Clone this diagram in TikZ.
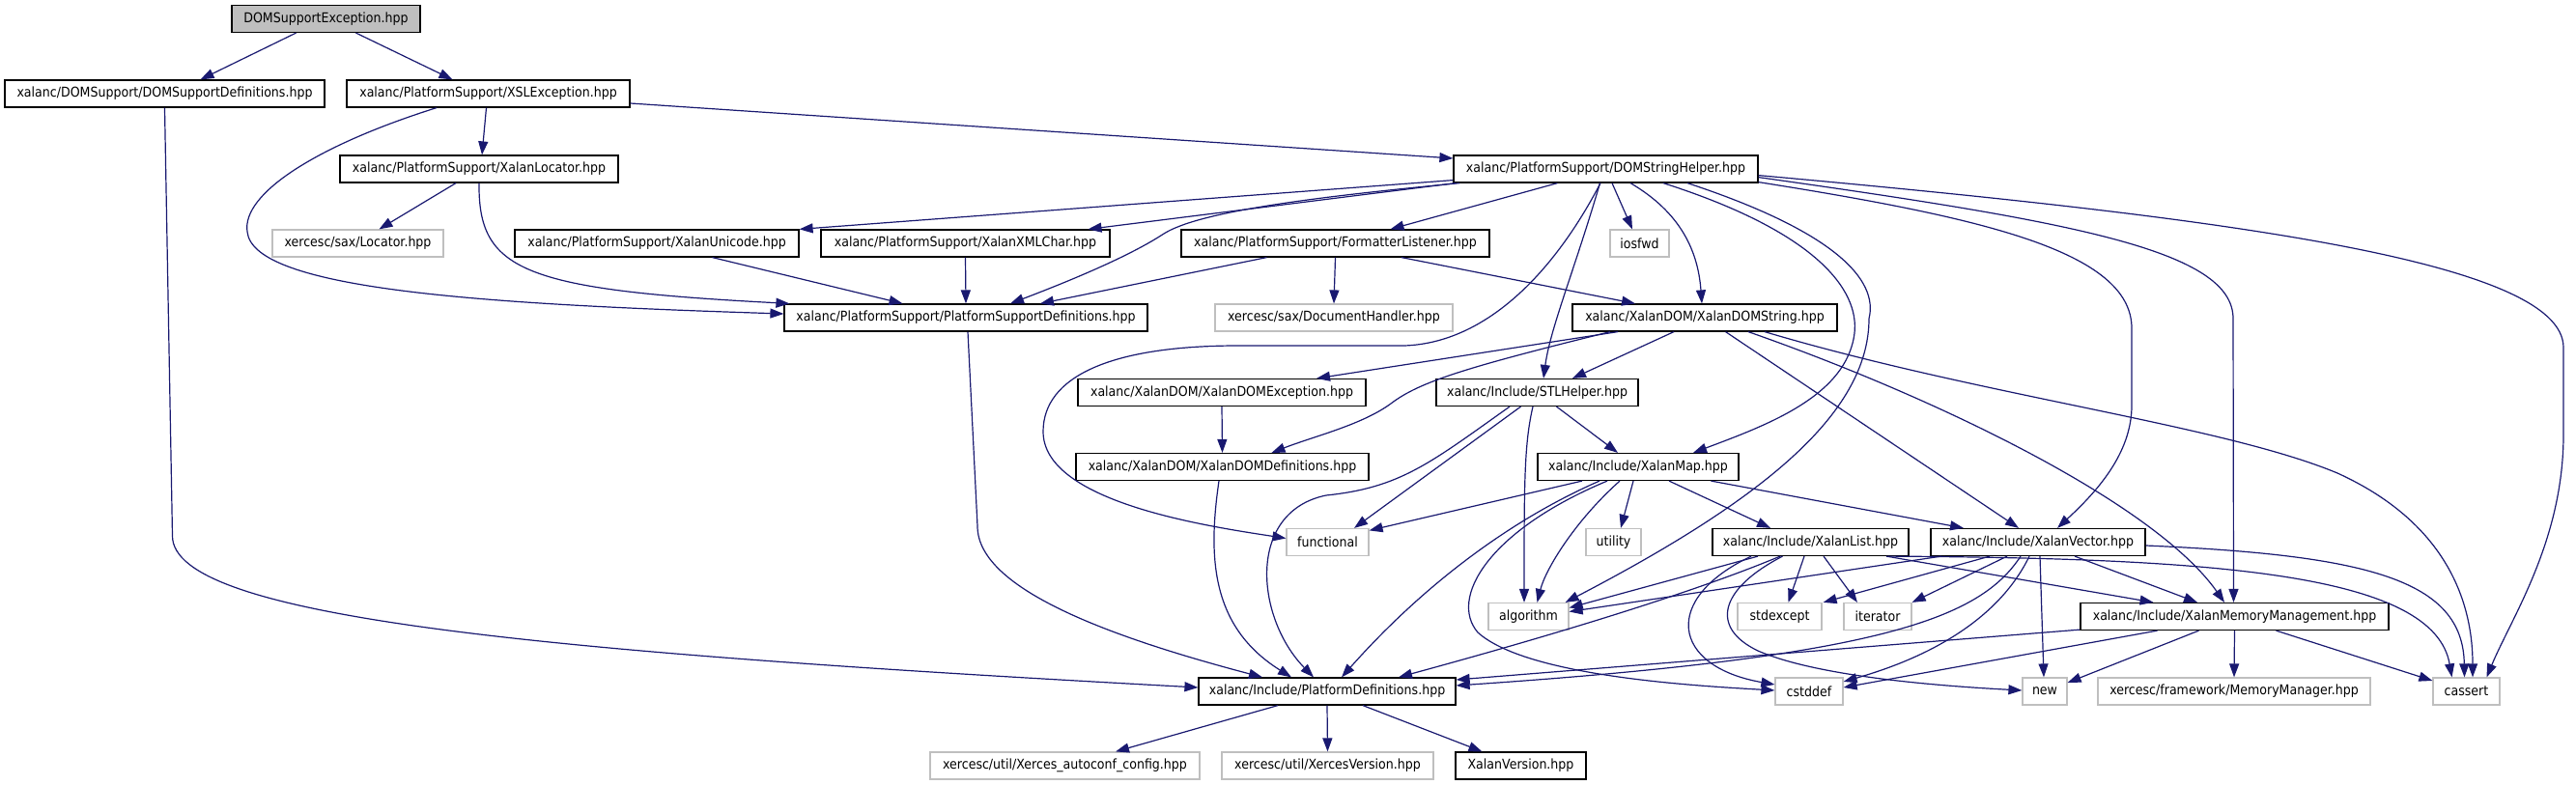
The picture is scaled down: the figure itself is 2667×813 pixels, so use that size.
\documentclass[tikz,border=0pt]{standalone}
\usepackage{fontspec}
\usepackage{graphicx}
\setmainfont{DejaVu Sans}
\usetikzlibrary{arrows.meta}
\definecolor{edgec}{HTML}{191970}
\definecolor{sysc}{HTML}{BFBFBF}
\newcommand{\nt}[1]{\scalebox{0.9}[1]{#1}}
\tikzset{
  box/.style={draw=black, fill=white, line width=1.2pt, inner sep=0pt, minimum height=28pt,
    font=\fontsize{14}{16}\selectfont},
  sys/.style={box, draw=sysc},
  e/.style={draw=edgec, line width=1.2pt, -{Triangle[length=14pt,width=10pt]}}
}
\begin{document}
\begin{tikzpicture}[x=1pt,y=-1pt]
\useasboundingbox (0,0) rectangle (2667,813);
% nodes
\node[box, fill=sysc, minimum width=195pt] (top) at (337.5,19.5) {\nt{DOMSupportException.hpp}};
\node[box, minimum width=331pt] (dsd) at (170.5,97) {\nt{xalanc/DOMSupport/DOMSupportDefinitions.hpp}};
\node[box, minimum width=293pt] (xsl) at (505.5,97) {\nt{xalanc/PlatformSupport/XSLException.hpp}};
\node[box, minimum width=288pt] (loc) at (496,175) {\nt{xalanc/PlatformSupport/XalanLocator.hpp}};
\node[box, minimum width=315pt] (dsh) at (1662.5,175) {\nt{xalanc/PlatformSupport/DOMStringHelper.hpp}};
\node[sys, minimum width=177pt] (saxloc) at (370.5,252) {\nt{xercesc/sax/Locator.hpp}};
\node[box, minimum width=294pt] (uni) at (680,252) {\nt{xalanc/PlatformSupport/XalanUnicode.hpp}};
\node[box, minimum width=299pt] (xmlchar) at (999.5,252) {\nt{xalanc/PlatformSupport/XalanXMLChar.hpp}};
\node[box, minimum width=319pt] (fmt) at (1382.5,252) {\nt{xalanc/PlatformSupport/FormatterListener.hpp}};
\node[sys, minimum width=61pt] (iosfwd) at (1697.5,252) {\nt{iosfwd}};
\node[box, minimum width=376pt] (psd) at (1000,329) {\nt{xalanc/PlatformSupport/PlatformSupportDefinitions.hpp}};
\node[sys, minimum width=246pt] (doch) at (1381,329) {\nt{xercesc/sax/DocumentHandler.hpp}};
\node[box, minimum width=274pt] (xds) at (1765,329) {\nt{xalanc/XalanDOM/XalanDOMString.hpp}};
\node[box, minimum width=298pt] (xde) at (1265,406.5) {\nt{xalanc/XalanDOM/XalanDOMException.hpp}};
\node[box, minimum width=209pt] (stl) at (1591.5,406.5) {\nt{xalanc/Include/STLHelper.hpp}};
\node[box, minimum width=303pt] (xdd) at (1265.5,483.5) {\nt{xalanc/XalanDOM/XalanDOMDefinitions.hpp}};
\node[box, minimum width=208pt] (map) at (1696,483.5) {\nt{xalanc/Include/XalanMap.hpp}};
\node[sys, minimum width=85pt] (func) at (1374.5,561.5) {\nt{functional}};
\node[sys, minimum width=57pt] (util) at (1670.5,561.5) {\nt{utility}};
\node[box, minimum width=203pt] (list) at (1874.5,561.5) {\nt{xalanc/Include/XalanList.hpp}};
\node[box, minimum width=222pt] (vec) at (2110,561.5) {\nt{xalanc/Include/XalanVector.hpp}};
\node[sys, minimum width=83pt] (alg) at (1582.5,638.5) {\nt{algorithm}};
\node[sys, minimum width=87pt] (stdex) at (1842.5,638.5) {\nt{stdexcept}};
\node[sys, minimum width=70pt] (iter) at (1944,638.5) {\nt{iterator}};
\node[box, minimum width=319pt] (mm) at (2313.5,638.5) {\nt{xalanc/Include/XalanMemoryManagement.hpp}};
\node[box, minimum width=266pt] (pd) at (1374,716) {\nt{xalanc/Include/PlatformDefinitions.hpp}};
\node[sys, minimum width=70pt] (cstddef) at (1873,716) {\nt{cstddef}};
\node[sys, minimum width=46pt] (new) at (2117,716) {\nt{new}};
\node[sys, minimum width=282pt] (memmgr) at (2313,716) {\nt{xercesc/framework/MemoryManager.hpp}};
\node[sys, minimum width=69pt] (cassert) at (2553.5,716) {\nt{cassert}};
\node[sys, minimum width=279pt] (xac) at (1102.5,793) {\nt{xercesc/util/Xerces\_autoconf\_config.hpp}};
\node[sys, minimum width=219pt] (xv) at (1374.5,793) {\nt{xercesc/util/XercesVersion.hpp}};
\node[box, minimum width=135pt] (xalv) at (1574.5,793) {\nt{XalanVersion.hpp}};
% edges
\draw[e] ([xshift=-31pt]top.south) -- ([xshift=37pt]dsd.north);
\draw[e] ([xshift=31pt]top.south) -- ([xshift=-37pt]xsl.north);
\draw[e] (dsd.south) -- (178.5,555) .. controls (178.5,640) and (560,675) .. ([yshift=4pt]pd.west);
\draw[e] ([xshift=-2pt]xsl.south) -- ([xshift=3pt]loc.north);
\draw[e] ([xshift=-53.5pt]xsl.south) .. controls (330,150) and (250,200) .. (256,240) .. controls (262,300) and (500,315) .. ([yshift=4pt]psd.west);
\draw[e] ([yshift=-10pt]xsl.east) -- ([yshift=11pt]dsh.west);
\draw[e] ([xshift=-24pt]loc.south) -- ([xshift=22pt]saxloc.north);
\draw[e] (loc.south) .. controls (495,280) and (540,300) .. ([xshift=6pt]psd.north west);
\draw[e] ([yshift=3pt]dsh.south west) -- (uni.north east);
\draw[e] ([xshift=3pt]dsh.south west) -- ([xshift=127pt]xmlchar.north);
\draw[e] ([xshift=7pt]dsh.south west) .. controls (1350,205) and (1240,220) .. (1205,242) .. controls (1170,265) and (1110,290) .. ([xshift=46pt]psd.north);
\draw[e] ([xshift=-50pt]dsh.south) -- ([xshift=57pt]fmt.north);
\draw[e] ([xshift=6.5pt]dsh.south) -- ([xshift=-7.5pt]iosfwd.north);
\draw[e] ([xshift=25.5pt]dsh.south) .. controls (1740,220) and (1758,260) .. ([xshift=-3pt]xds.north);
\draw[e] ([xshift=-5.5pt]dsh.south) .. controls (1610,280) and (1540,355) .. (1454,358) -- (1282,358) .. controls (1150,358) and (1080,390) .. (1080,447) .. controls (1080,520) and (1250,545) .. ([yshift=4pt]func.west);
\draw[e] ([xshift=-6pt]dsh.south) .. controls (1630,280) and (1605,340) .. ([xshift=6.5pt]stl.north);
\draw[e] ([xshift=59.5pt]dsh.south) .. controls (1880,240) and (1925,300) .. (1920,345) .. controls (1912,410) and (1830,440) .. ([xshift=57pt]map.north);
\draw[e] ([xshift=84.5pt]dsh.south) .. controls (1900,240) and (1945,290) .. (1935,330) .. controls (1935,430) and (1820,520) .. ([xshift=-4pt]alg.north east);
\draw[e] ([yshift=1pt]dsh.south east) .. controls (2050,225) and (2207,260) .. (2207,340) -- (2207,420) .. controls (2207,470) and (2170,510) .. ([xshift=20pt]vec.north);
\draw[e] ([yshift=6pt]dsh.south east) .. controls (2150,230) and (2312,260) .. (2312,330) -- ([xshift=-1pt]mm.north);
\draw[e] ([yshift=8pt]dsh.south east) .. controls (2300,225) and (2654,270) .. (2654,360) -- (2654,450) .. controls (2654,560) and (2600,640) .. ([xshift=21pt]cassert.north);
\draw[e] ([xshift=57.5pt]uni.south) -- ([xshift=-65.5pt]psd.north);
\draw[e] (xmlchar.south) -- (psd.north);
\draw[e] ([xshift=-71pt]fmt.south) -- ([xshift=77pt]psd.north);
\draw[e] (fmt.south) -- (doch.north);
\draw[e] ([xshift=68.5pt]fmt.south) -- ([xshift=-72pt]xds.north);
\draw[e] ([xshift=2pt]psd.south) -- (1012,545) .. controls (1012,610) and (1150,660) .. ([xshift=-67pt]pd.north);
\draw[e] ([xshift=-90pt]xds.south) -- ([xshift=98pt]xde.north);
\draw[e] ([xshift=-98pt]xds.south) .. controls (1520,380) and (1470,395) .. (1440,418) .. controls (1410,440) and (1360,452) .. ([xshift=51pt]xdd.north);
\draw[e] ([xshift=-32pt]xds.south) -- ([xshift=36.5pt]stl.north);
\draw[e] ([xshift=21.5pt]xds.south) -- ([xshift=-20pt]vec.north);
\draw[e] ([xshift=45pt]xds.south) .. controls (2000,410) and (2230,520) .. ([xshift=-10.5pt]mm.north);
\draw[e] ([xshift=62pt]xds.south) .. controls (2050,410) and (2300,440) .. (2420,490) .. controls (2530,540) and (2560,620) .. ([xshift=6.5pt]cassert.north);
\draw[e] (xde.south) -- (xdd.north);
\draw[e] ([xshift=-17pt]stl.south) -- ([xshift=27.5pt]func.north);
\draw[e] ([xshift=-28.5pt]stl.south) .. controls (1480,480) and (1450,505) .. (1373,513) .. controls (1290,530) and (1300,640) .. ([xshift=-14pt]pd.north);
\draw[e] ([xshift=-4.5pt]stl.south) .. controls (1578,460) and (1578,500) .. ([xshift=-4.5pt]alg.north);
\draw[e] ([xshift=20pt]stl.south) -- ([xshift=-21pt]map.north);
\draw[e] ([xshift=-3.5pt]xdd.south) .. controls (1250,580) and (1255,650) .. ([xshift=-37pt]pd.north);
\draw[e] ([xshift=-58pt]map.south) -- ([yshift=-2.5pt]func.north east);
\draw[e] ([xshift=-40pt]map.south) .. controls (1560,540) and (1470,610) .. ([xshift=15pt]pd.north);
\draw[e] ([xshift=-19pt]map.south) .. controls (1630,540) and (1600,590) .. ([xshift=9pt]alg.north);
\draw[e] ([xshift=-5pt]map.south) -- ([xshift=7.5pt]util.north);
\draw[e] ([xshift=32pt]map.south) -- ([xshift=-41.5pt]list.north);
\draw[e] ([xshift=75.5pt]map.south) -- ([xshift=-77pt]vec.north);
\draw[e] ([xshift=-32pt]map.south) .. controls (1540,550) and (1500,620) .. (1530,655) .. controls (1580,700) and (1750,710) .. ([yshift=1pt]cstddef.west);
\draw[e] ([xshift=-54.5pt]list.south) -- ([yshift=9pt]alg.east);
\draw[e] ([xshift=-31.5pt]list.south) .. controls (1750,615) and (1600,660) .. ([xshift=74pt]pd.north);
\draw[e] ([xshift=-6.5pt]list.south) -- ([xshift=9pt]stdex.north);
\draw[e] ([xshift=13.5pt]list.south) -- ([xshift=-21pt]iter.north);
\draw[e] ([xshift=-61.5pt]list.south) .. controls (1720,620) and (1730,690) .. ([yshift=7pt]cstddef.west);
\draw[e] ([xshift=-29pt]list.south) .. controls (1780,610) and (1770,650) .. (1820,674) .. controls (1880,700) and (2000,710) .. ([yshift=1pt]new.west);
\draw[e] ([xshift=78.5pt]list.south) -- ([xshift=-84pt]mm.north);
\draw[e] ([xshift=80.5pt]list.south) .. controls (2300,578) and (2520,595) .. ([xshift=-15pt]cassert.north);
\draw[e] ([xshift=-100pt]vec.south) -- ([yshift=5pt]alg.east);
\draw[e] ([xshift=-18pt]vec.south) .. controls (2050,640) and (1950,680) .. ([yshift=6pt]pd.east);
\draw[e] ([xshift=-50pt]vec.south) -- ([xshift=1pt]stdex.north east);
\draw[e] ([xshift=-32pt]vec.south) -- (iter.north east);
\draw[e] ([xshift=-9pt]vec.south) .. controls (2070,640) and (2000,680) .. ([yshift=10pt]cstddef.east);
\draw[e] ([xshift=2pt]vec.south) -- ([xshift=-1pt]new.north);
\draw[e] ([xshift=38pt]vec.south) -- ([xshift=-38.5pt]mm.north);
\draw[e] ([yshift=-3.5pt]vec.east) .. controls (2450,575) and (2550,600) .. ([xshift=-2pt]cassert.north);
\draw[e] ([yshift=1pt]mm.south west) -- ([yshift=12pt]pd.east);
\draw[e] ([xshift=-80pt]mm.south) -- ([yshift=4pt]cstddef.east);
\draw[e] ([xshift=-37pt]mm.south) -- ([yshift=9pt]new.east);
\draw[e] (mm.south) -- (memmgr.north);
\draw[e] ([xshift=43pt]mm.south) -- ([yshift=11pt]cassert.west);
\draw[e] ([xshift=-51pt]pd.south) -- ([xshift=52.5pt]xac.north);
\draw[e] (pd.south) -- (xv.north);
\draw[e] ([xshift=37pt]pd.south) -- ([xshift=-40pt]xalv.north);
\end{tikzpicture}
\end{document}
